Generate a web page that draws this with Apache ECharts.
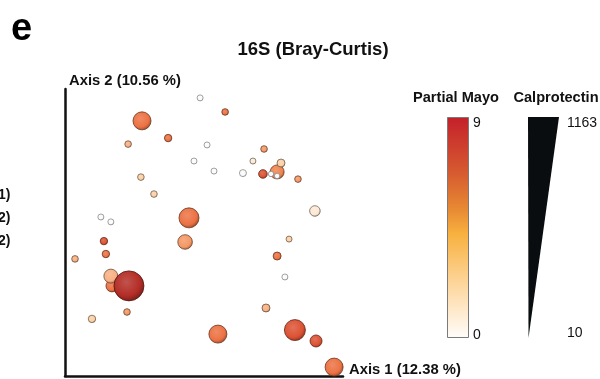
<!DOCTYPE html>
<html>
<head>
<meta charset="utf-8">
<title>16S (Bray-Curtis)</title>
<script src="https://cdn.jsdelivr.net/npm/echarts@6/dist/echarts.min.js"></script>
<style>
  html, body { margin: 0; padding: 0; background: #fff; }
  #chart { width: 600px; height: 379px; }
</style>
</head>
<body>
<div id="chart"></div>
<script>
// PCoA scores (scaled to 0-100 along each displayed axis), in draw order
const axis1 = [48.6, 57.6, 27.7, 22.7, 37.1, 51.1, 46.4, 53.6, 64.0, 67.6,
               27.3, 32.0, 12.9, 16.5, 44.6, 71.6, 76.3, 77.7, 71.2, 74.1,
               76.3, 83.8, 89.9, 43.2, 14.0, 14.7, 3.6, 16.9, 16.5, 23.0,
               22.3, 9.7, 55.0, 80.6, 76.3, 79.1, 72.3, 82.7, 90.3, 96.8];
const axis2 = [96.9, 92.0, 88.9, 80.8, 82.9, 80.5, 74.9, 71.4, 70.7, 74.9,
               69.3, 63.4, 55.4, 53.7, 55.1, 79.1, 71.1, 74.2, 70.4, 70.4,
               69.7, 68.6, 57.5, 46.7, 47.0, 42.5, 40.8, 31.4, 34.8, 31.4,
               22.3, 19.9, 14.6, 47.7, 41.8, 34.5, 23.7, 16.0, 12.2, 3.1];
// Partial Mayo score per sample (colour)
const mayo = [0, 6, 6, 3, 6, 0, 0, 0, 0, 1,
              2, 2, 0, 0, 6, 4, 5, 2, 7, 0,
              0, 4, 1, 4, 7, 6, 3, 6, 3, 9,
              4, 2, 6, 2, 6, 0, 3, 7, 7, 6];
// Faecal calprotectin per sample (size)
const calprotectin = [56, 84, 610, 84, 121, 56, 56, 56, 102, 56,
                      84, 84, 56, 56, 702, 84, 425, 148, 176, 28,
                      28, 84, 268, 453, 121, 121, 84, 333, 425, 1163,
                      84, 121, 610, 56, 148, 56, 148, 748, 333, 610];

const mayoRange = [0, 9];
const calproRange = [10, 1163];
const leftFragments = ['11)', '12)', '12)'];

const FONT = '"Liberation Sans", Arial, sans-serif';

// sphere face colours for each Mayo level
const spherePalette = ['#fbfbfb', '#fde9d4', '#fcd0a6', '#f8b083', '#f49865',
                       '#f0844d', '#ec7243', '#dc5233', '#c73a2b', '#b32d26'];

function hexToRgb(h) {
  const n = parseInt(h.slice(1), 16);
  return [(n >> 16) & 255, (n >> 8) & 255, n & 255];
}
function mix(h, t, k) {
  const a = hexToRgb(h), b = hexToRgb(t);
  const c = a.map((v, i) => Math.round(v + (b[i] - v) * k));
  return 'rgb(' + c.join(',') + ')';
}
function sphereStyle(level) {
  const base = spherePalette[Math.max(0, Math.min(9, Math.round(level)))];
  const white = level < 1;
  return {
    opacity: 1,
    color: {
      type: 'radial', x: 0.42, y: 0.38, r: 0.62,
      colorStops: [
        { offset: 0, color: mix(base, '#ffffff', 0.18) },
        { offset: 0.72, color: base },
        { offset: 1, color: mix(base, '#000000', 0.3) }
      ]
    },
    borderColor: white ? '#8a8a8a' : mix(base, '#000000', 0.55),
    borderWidth: 0.8
  };
}
function sizeFor(c) {
  return 5 + (c - calproRange[0]) / (calproRange[1] - calproRange[0]) * 25;
}

const points = axis1.map((x, i) => ({
  value: [x, axis2[i], mayo[i], calprotectin[i]],
  symbolSize: sizeFor(calprotectin[i]),
  itemStyle: sphereStyle(mayo[i])
}));

const chart = echarts.init(document.getElementById('chart'), null, { renderer: 'canvas' });

const axisCommon = {
  type: 'value', min: 0, max: 100,
  axisLine: { show: true, lineStyle: { color: '#111', width: 2.5 } },
  axisTick: { show: false }, axisLabel: { show: false }, splitLine: { show: false }
};

chart.setOption({
  animation: false,
  backgroundColor: '#ffffff',
  grid: { left: 65, right: 257, top: 89, bottom: 3 },
  xAxis: axisCommon,
  yAxis: axisCommon,
  series: [{
    type: 'scatter',
    clip: false,
    data: points,
    symbol: 'circle',
    itemStyle: { opacity: 1 }
  }],
  graphic: [
    { type: 'text', x: 21.5, y: 30,
      style: { text: 'e', font: 'bold 38px ' + FONT, fill: '#000',
               textAlign: 'center', textVerticalAlign: 'middle' } },
    { type: 'text', x: 313, y: 50,
      style: { text: '16S (Bray-Curtis)', font: 'bold 18.5px ' + FONT, fill: '#111',
               textAlign: 'center', textVerticalAlign: 'middle' } },
    { type: 'text', x: 69, y: 81,
      style: { text: 'Axis 2 (10.56 %)', font: 'bold 14.8px ' + FONT, fill: '#111',
               textVerticalAlign: 'middle' } },
    { type: 'text', x: 349, y: 370,
      style: { text: 'Axis 1 (12.38 %)', font: 'bold 14.8px ' + FONT, fill: '#111',
               textVerticalAlign: 'middle' } },
    // Partial Mayo colour bar
    { type: 'text', x: 456, y: 98,
      style: { text: 'Partial Mayo', font: 'bold 14.6px ' + FONT, fill: '#111',
               textAlign: 'center', textVerticalAlign: 'middle' } },
    { type: 'rect', shape: { x: 447.5, y: 117.5, width: 21, height: 220 },
      style: {
        stroke: '#7a7a7a', lineWidth: 1,
        fill: { type: 'linear', x: 0, y: 0, x2: 0, y2: 1, colorStops: [
          { offset: 0, color: '#c4202a' },
          { offset: 0.25, color: '#d65a30' },
          { offset: 0.42, color: '#e88a33' },
          { offset: 0.53, color: '#f8b13f' },
          { offset: 0.75, color: '#fdd59a' },
          { offset: 1, color: '#fffdfa' }
        ] }
      } },
    { type: 'text', x: 473, y: 123,
      style: { text: String(mayoRange[1]), font: '14px ' + FONT, fill: '#111', textVerticalAlign: 'middle' } },
    { type: 'text', x: 473, y: 335,
      style: { text: String(mayoRange[0]), font: '14px ' + FONT, fill: '#111', textVerticalAlign: 'middle' } },
    // Calprotectin size wedge
    { type: 'text', x: 556, y: 98,
      style: { text: 'Calprotectin', font: 'bold 14.6px ' + FONT, fill: '#111',
               textAlign: 'center', textVerticalAlign: 'middle' } },
    { type: 'polygon', shape: { points: [[528, 117], [559, 117], [528.5, 338]] },
      style: { fill: '#0a0d0f' } },
    { type: 'text', x: 567, y: 123,
      style: { text: String(calproRange[1]), font: '14px ' + FONT, fill: '#111', textVerticalAlign: 'middle' } },
    { type: 'text', x: 567, y: 333,
      style: { text: String(calproRange[0]), font: '14px ' + FONT, fill: '#111', textVerticalAlign: 'middle' } },
    // clipped legend entries from the neighbouring panel
    ...leftFragments.map((t, i) => ({
      type: 'text', x: 10.5, y: 195 + i * 23,
      style: { text: t, font: 'bold 14px ' + FONT, fill: '#111',
               textAlign: 'right', textVerticalAlign: 'middle' }
    }))
  ]
});
</script>
</body>
</html>
